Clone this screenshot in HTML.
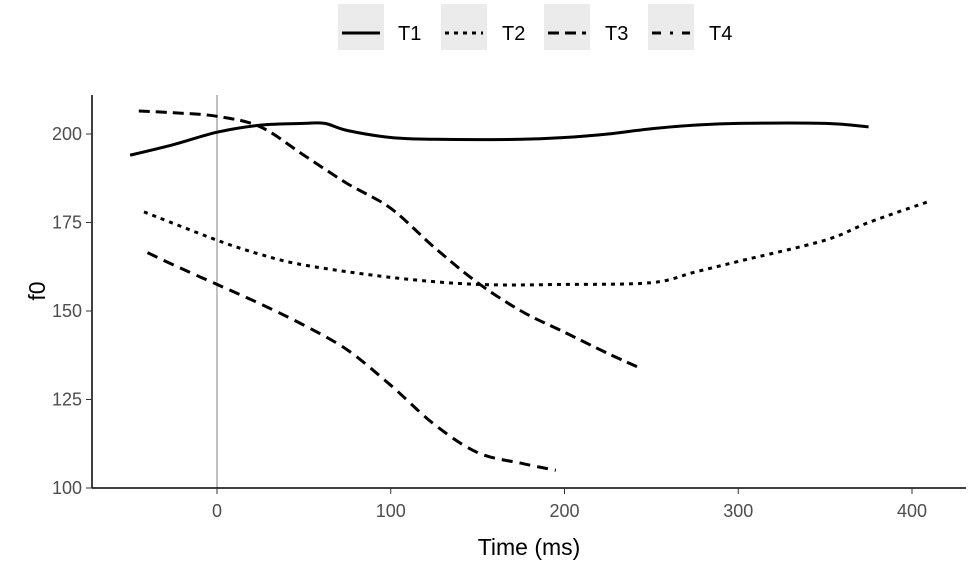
<!DOCTYPE html>
<html><head><meta charset="utf-8"><style>body{margin:0;background:#fff}svg{display:block;font-family:"Liberation Sans",Arial,sans-serif}</style></head>
<body>
<svg id="c" width="975" height="567">
<g id="legend">
<g><rect x="338" y="4" width="46" height="46" fill="#ebebeb"/><line x1="342" x2="380" y1="33" y2="33" stroke="#000" stroke-width="3"/><text x="398" y="40" font-size="20">T1</text></g>
<g><rect x="441" y="4" width="46" height="46" fill="#ebebeb"/><line x1="445" x2="483" y1="33" y2="33" stroke="#000" stroke-width="3" stroke-dasharray="4 5"/><text x="502" y="40" font-size="20">T2</text></g>
<g><rect x="544" y="4" width="46" height="46" fill="#ebebeb"/><line x1="548" x2="586" y1="33" y2="33" stroke="#000" stroke-width="3" stroke-dasharray="11 6"/><text x="605" y="40" font-size="20">T3</text></g>
<g><rect x="648" y="4" width="46" height="46" fill="#ebebeb"/><line x1="652" x2="690" y1="33" y2="33" stroke="#000" stroke-width="3" stroke-dasharray="9 9 3 9"/><text x="709" y="40" font-size="20">T4</text></g>
</g>
<g id="plot"></g>
</svg>
<script>
const xTicks=[0,100,200,300,400];
const yTicks=[100,125,150,175,200];
const t1x=[-50,-25,0,25,50,62,75,100,125,175,200,225,250,275,300,350,375];
const t1y=[194,197,200.5,202.5,203,203,201,199,198.5,198.5,199,200,201.5,202.5,203,203,202];
const t2x=[-42,0,25,50,100,150,200,250,275,300,350,375,410];
const t2y=[178,170,166,163,159.5,157.5,157.5,158,161,164,170,175,181];
const t3x=[-45,-25,0,25,50,75,100,125,150,175,200,225,243];
const t3y=[206.5,206,205,202,194,186,179,168,158,150,144,138,134];
const t4x=[-40,-25,0,25,50,75,100,125,150,175,195];
const t4y=[166.5,163,157.5,152,146,139,129,118,110,107,105];
const X=v=>217+v*1.7375, Y=v=>488-(v-100)*3.54;
const NS="http://www.w3.org/2000/svg", g=document.getElementById('plot');
function mk(t,a){const e=document.createElementNS(NS,t);for(const k in a)e.setAttribute(k,a[k]);g.appendChild(e);return e;}
let e=mk('line',{x1:X(0),x2:X(0),y1:95,y2:488,stroke:'#aaa','stroke-width':1.5});


e=mk('line',{x1:92,x2:92,y1:95,y2:488,stroke:'#000','stroke-width':1.5});


e=mk('line',{x1:92,x2:966,y1:488,y2:488,stroke:'#000','stroke-width':1.5});


xTicks.forEach(v=>{mk('line',{x1:X(v),x2:X(v),y1:488,y2:494,stroke:'#333'});
 const t=mk('text',{x:X(v),y:517,'font-size':18,fill:'#4d4d4d','text-anchor':'middle'});t.textContent=v;
 
 });
yTicks.forEach(v=>{mk('line',{x1:86,x2:92,y1:Y(v),y2:Y(v),stroke:'#333'});
 const t=mk('text',{x:82,y:Y(v)+6,'font-size':18,fill:'#4d4d4d','text-anchor':'end'});t.textContent=v;
 
 });
let t=mk('text',{x:529,y:555,'font-size':23,'text-anchor':'middle'});t.textContent='Time (ms)';


t=mk('text',{x:0,y:0,'font-size':23,'text-anchor':'middle',transform:'translate(45,291) rotate(-90)'});t.textContent='f0';


function smooth(xs,ys){const P=xs.map((x,i)=>[X(x),Y(ys[i])]);let d='M'+P[0][0].toFixed(1)+','+P[0][1].toFixed(1);
 for(let i=0;i<P.length-1;i++){const p0=P[i-1]||P[i],p1=P[i],p2=P[i+1],p3=P[i+2]||p2;
  const c1=[p1[0]+(p2[0]-p0[0])/6,p1[1]+(p2[1]-p0[1])/6],c2=[p2[0]-(p3[0]-p1[0])/6,p2[1]-(p3[1]-p1[1])/6];
  d+='C'+c1.map(n=>n.toFixed(1))+' '+c2.map(n=>n.toFixed(1))+' '+p2.map(n=>n.toFixed(1));}
 return d;}
const series=[[t1x,t1y,'none','series-t1'],[t2x,t2y,'4 5','series-t2'],[t3x,t3y,'11 6','series-t3'],[t4x,t4y,'11 7','series-t4']];
series.forEach(s=>{
 const p=mk('path',{d:smooth(s[0],s[1]),fill:'none',stroke:'#000','stroke-width':3,'stroke-dasharray':s[2],'stroke-linejoin':'round'});
 
 });
</script>
</body></html>
